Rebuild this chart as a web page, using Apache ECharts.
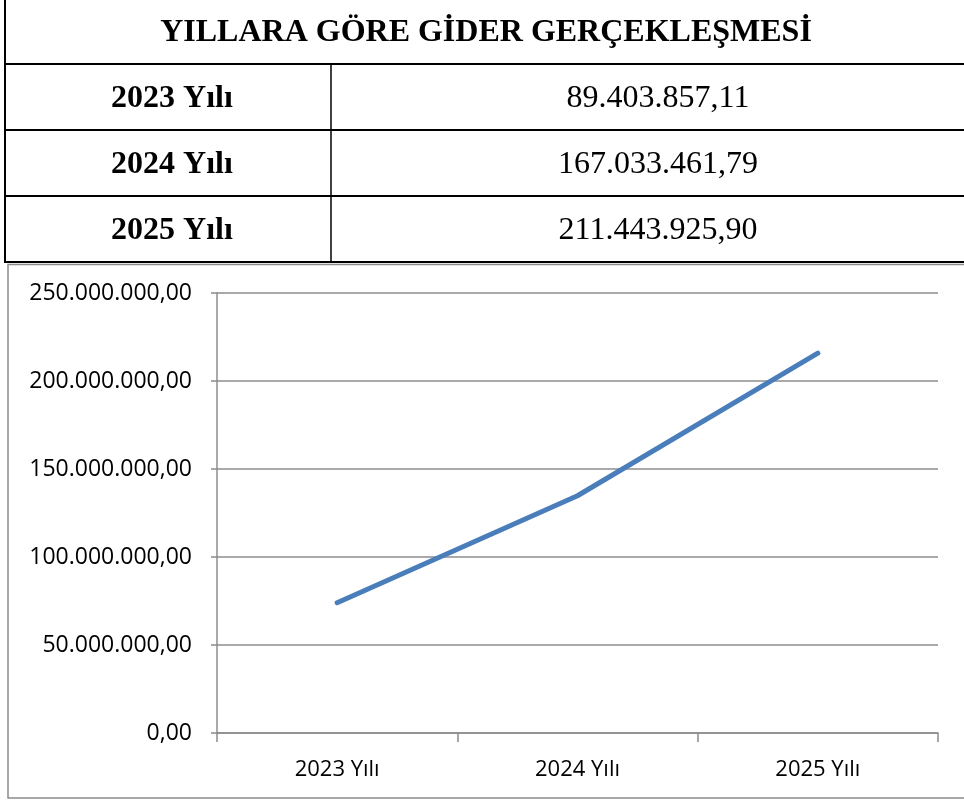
<!DOCTYPE html>
<html>
<head>
<meta charset="utf-8">
<script src="https://cdn.jsdelivr.net/npm/echarts@6/dist/echarts.min.js"></script>
<style>
html,body{margin:0;padding:0;background:#fff;}
#c{width:964px;height:804px;}
</style>
</head>
<body>
<div id="c"></div>
<script>
// Table content
const tableTitle = "YILLARA GÖRE GİDER GERÇEKLEŞMESİ";
const tableYears = ["2023 Yılı", "2024 Yılı", "2025 Yılı"];
const tableValues = ["89.403.857,11", "167.033.461,79", "211.443.925,90"];

// Chart data
const categories = ["2023 Yılı", "2024 Yılı", "2025 Yılı"];
const seriesValues = [74000000, 134800000, 215800000];
const yTicks = [0, 50000000, 100000000, 150000000, 200000000, 250000000];

function trFormat(v) {
  const s = Math.round(v).toString().replace(/\B(?=(\d{3})+(?!\d))/g, ".");
  return s + ",00";
}

const chart = echarts.init(document.getElementById('c'), null, {renderer: 'canvas'});

const rowTop = [64, 130, 196];
const rowH = 66;
const graphics = [];
// table lines
graphics.push({type:'line', shape:{x1:5, y1:0, x2:5, y2:263}, style:{stroke:'#000', lineWidth:2}});
[64,130,196,262].forEach(y => graphics.push({type:'line', shape:{x1:5, y1:y, x2:964, y2:y}, style:{stroke:'#000', lineWidth:2.2}}));
graphics.push({type:'line', shape:{x1:331, y1:64, x2:331, y2:263}, style:{stroke:'#000', lineWidth:1.5}});
// title
graphics.push({type:'text', x:486, y:33, style:{text:tableTitle, fill:'#000', font:'bold 32px "Liberation Serif"', align:'center', verticalAlign:'middle'}});
tableYears.forEach((t, i) => {
  graphics.push({type:'text', x:172, y:rowTop[i] + rowH/2 + 2, style:{text:t, fill:'#000', font:'bold 32px "Liberation Serif"', align:'center', verticalAlign:'middle'}});
  graphics.push({type:'text', x:658, y:rowTop[i] + rowH/2 + 2, style:{text:tableValues[i], fill:'#000', font:'32px "Liberation Serif"', align:'center', verticalAlign:'middle'}});
});
// chart border
graphics.push({type:'rect', shape:{x:8, y:264.5, width:970, height:533.5}, style:{fill:null, stroke:'#8c8c8c', lineWidth:1.5}});

chart.setOption({
  animation: false,
  backgroundColor: '#fff',
  graphic: graphics,
  grid: {left: 217, right: 26, top: 293, bottom: 71},
  xAxis: {
    type: 'category',
    data: categories,
    boundaryGap: true,
    axisLine: {lineStyle: {color: '#8c8c8c', width: 1.5}},
    axisTick: {show: true, length: 9, alignWithLabel: false, lineStyle: {color: '#8c8c8c', width: 1.5}},
    axisLabel: {color: '#000', fontFamily: 'Open Sans', fontSize: 22, margin: 26}
  },
  yAxis: {
    type: 'value',
    min: 0, max: 250000000, interval: 50000000,
    axisLine: {show: true, lineStyle: {color: '#8c8c8c', width: 1.5}},
    axisTick: {show: true, length: 6, lineStyle: {color: '#8c8c8c', width: 1.5}},
    splitLine: {show: true, lineStyle: {color: '#8c8c8c', width: 1.5}},
    axisLabel: {color: '#000', fontFamily: 'Open Sans', fontSize: 23, margin: 25, formatter: trFormat}
  },
  series: [{
    type: 'line',
    data: seriesValues,
    showSymbol: false,
    symbol: 'none',
    lineStyle: {color: '#4a7ebb', width: 5, cap: 'round', join: 'round'},
    itemStyle: {color: '#4a7ebb'}
  }]
});
</script>
</body>
</html>
